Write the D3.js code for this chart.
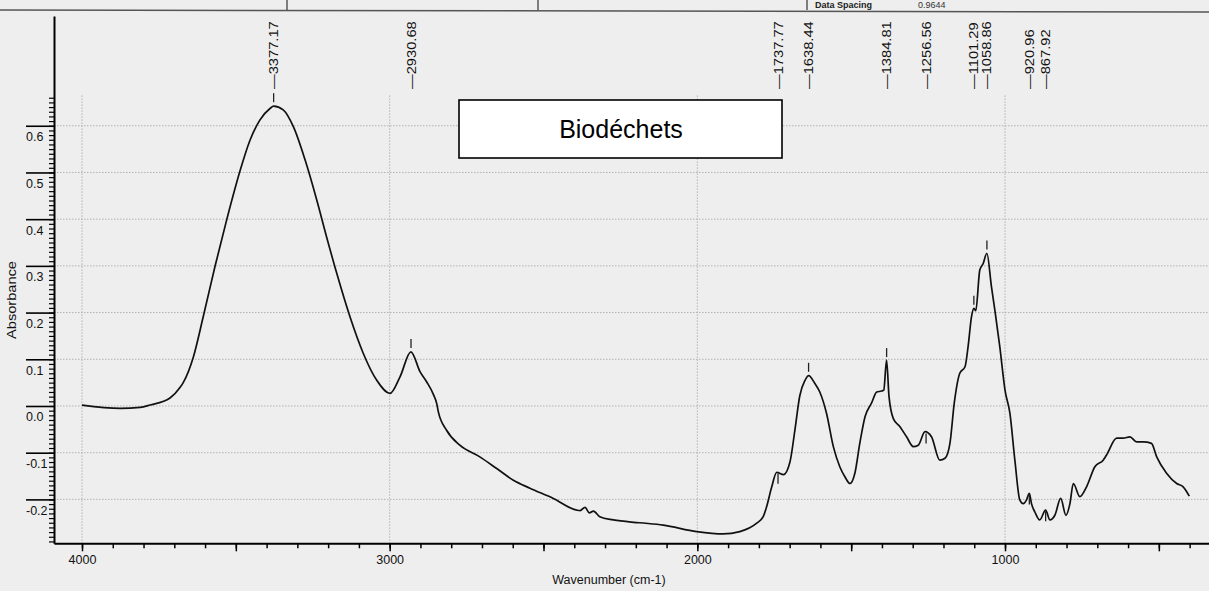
<!DOCTYPE html>
<html><head><meta charset="utf-8">
<script src="https://cdn.jsdelivr.net/npm/d3@7"></script>
<style>
html,body{margin:0;padding:0;background:#eeeeee;}
svg{display:block;font-family:"Liberation Sans",Arial,sans-serif;}
</style></head>
<body>
<svg id="chart" width="1209" height="591"></svg>
<script>
// ---- data ----
const wavenumbers = [4000,3876,3811,3779,3714,3681,3671,3638,3606,3568,3530,3487,3454,3422,3389,3377,3346,3313,3275,3237,3205,3172,3129,3086,3042,2999,2966,2931,2901,2880,2858,2847,2842,2815,2772,2707,2652,2598,2544,2468,2392,2381,2365,2351,2338,2317,2273,2187,2111,2002,1916,1862,1807,1786,1775,1759,1742,1720,1699,1683,1667,1650,1638,1618,1602,1580,1558,1537,1520,1504,1488,1472,1455,1434,1417,1401,1394,1385,1377,1363,1342,1320,1298,1282,1260,1239,1212,1195,1179,1165,1147,1130,1120,1109,1101,1095,1082,1071,1059,1044,1033,1017,1000,984,968,952,941,930,921,914,903,887,868,854,838,819,802,789,778,757,735,708,681,670,637,616,594,572,551,524,507,475,442,421,401];
const absorbance = [0.002,-0.005,-0.003,0.002,0.017,0.040,0.050,0.105,0.191,0.298,0.398,0.502,0.569,0.612,0.637,0.642,0.634,0.598,0.527,0.441,0.362,0.284,0.191,0.113,0.055,0.027,0.063,0.116,0.073,0.052,0.025,0.005,-0.012,-0.052,-0.084,-0.109,-0.134,-0.159,-0.176,-0.198,-0.223,-0.224,-0.217,-0.229,-0.225,-0.237,-0.244,-0.250,-0.255,-0.269,-0.274,-0.269,-0.251,-0.237,-0.216,-0.175,-0.142,-0.147,-0.120,-0.052,0.022,0.055,0.065,0.048,0.030,-0.016,-0.087,-0.130,-0.152,-0.166,-0.144,-0.080,-0.023,0.006,0.030,0.032,0.034,0.098,0.020,-0.027,-0.044,-0.066,-0.087,-0.084,-0.055,-0.066,-0.116,-0.112,-0.080,0.006,0.070,0.084,0.127,0.191,0.209,0.204,0.291,0.305,0.327,0.255,0.205,0.127,0.034,-0.016,-0.116,-0.201,-0.209,-0.201,-0.187,-0.209,-0.227,-0.244,-0.223,-0.244,-0.234,-0.198,-0.234,-0.209,-0.166,-0.194,-0.173,-0.130,-0.116,-0.105,-0.069,-0.069,-0.066,-0.077,-0.077,-0.080,-0.109,-0.144,-0.166,-0.173,-0.193];
const peakPositions = [3377.17,2930.68,1737.77,1638.44,1384.81,1256.56,1101.29,1058.86,920.96,867.92];
const peakLabels = ["3377.17","2930.68","1737.77","1638.44","1384.81","1256.56","1101.29","1058.86","920.96","867.92"];
const peakSides = ["up","up","down","up","up","down","up","up","down","down"];
const yTickValues = [-0.2,-0.1,0.0,0.1,0.2,0.3,0.4,0.5,0.6];
const yTickLabels = ["-0.2","-0.1","0.0","0.1","0.2","0.3","0.4","0.5","0.6"];
const xTickValues = [4000,3000,2000,1000];
const xTickLabels = ["4000","3000","2000","1000"];
const title = "Biodéchets";
const xTitle = "Wavenumber (cm-1)";
const yTitle = "Absorbance";
const headerTexts = ["Data Spacing","0.9644"];

// ---- chart ----
const svg = d3.select("#chart");
const x = d3.scaleLinear().domain([4091, 337]).range([54, 1209]);
const y = d3.scaleLinear().domain([-0.294, 0.835]).range([543.3, 16]);

// background
svg.append("rect").attr("width",1209).attr("height",591).attr("fill","#eeeeee");

// header strip (cropped scan header)
svg.append("line").attr("x1",0).attr("x2",1209).attr("y1",10).attr("y2",12).attr("stroke","#555").attr("stroke-width",1.5);
[287,538,807].forEach(px=>{
  svg.append("line").attr("x1",px).attr("x2",px).attr("y1",0).attr("y2",10).attr("stroke","#333").attr("stroke-width",1.2);
});
svg.append("text").attr("x",815).attr("y",8).attr("font-size",9).attr("font-weight","bold").attr("fill","#222").text(headerTexts[0]);
svg.append("text").attr("x",918).attr("y",8).attr("font-size",9).attr("fill","#333").text(headerTexts[1]);

// grid
const gridTop = y(0.665), gridBottom = y(-0.294);
svg.append("g").selectAll("line").data(yTickValues).join("line")
  .attr("x1",54).attr("x2",1209).attr("y1",d=>y(d)).attr("y2",d=>y(d))
  .attr("stroke","#b2b2b2").attr("stroke-width",1).attr("stroke-dasharray","1.5,1.5");
svg.append("g").selectAll("line").data(xTickValues).join("line")
  .attr("x1",d=>x(d)).attr("x2",d=>x(d)).attr("y1",gridTop).attr("y2",gridBottom)
  .attr("stroke","#b2b2b2").attr("stroke-width",1).attr("stroke-dasharray","1.5,1.5");

// x axis
const xMinor = svg.append("g").attr("transform","translate(0,543.3)")
  .call(d3.axisBottom(x).tickValues(d3.range(4000,399,-100)).tickSize(5).tickSizeOuter(0).tickFormat(""));
xMinor.select(".domain").attr("stroke","#000").attr("stroke-width",2);
xMinor.selectAll(".tick line").attr("stroke","#000").attr("stroke-width",1.5);
const xMajor = svg.append("g").attr("transform","translate(0,543.3)")
  .call(d3.axisBottom(x).tickValues([4000,3500,3000,2500,2000,1500,1000,500]).tickSize(8).tickSizeOuter(0)
    .tickFormat(d=>{const i=xTickValues.indexOf(d);return i>=0?xTickLabels[i]:"";}));
xMajor.select(".domain").remove();
xMajor.selectAll(".tick line").attr("stroke","#000").attr("stroke-width",1.5);
xMajor.selectAll(".tick text").attr("font-size",12.5).attr("font-family","Liberation Sans, Arial, sans-serif").attr("fill","#111").attr("y",12);

// y axis
const yMinor = svg.append("g").attr("transform","translate(54,0)")
  .call(d3.axisLeft(y).tickValues(d3.range(-29,67).map(d=>d/100)).tickSize(5).tickSizeOuter(0).tickFormat(""));
yMinor.select(".domain").attr("stroke","#000").attr("stroke-width",2);
yMinor.selectAll(".tick line").attr("stroke","#000").attr("stroke-width",1.2);
const yMajor = svg.append("g").attr("transform","translate(54,0)")
  .call(d3.axisLeft(y).tickValues(yTickValues).tickSize(28).tickSizeOuter(0)
    .tickFormat(d=>yTickLabels[yTickValues.indexOf(d)]));
yMajor.select(".domain").remove();
yMajor.selectAll(".tick line").attr("stroke","#000").attr("stroke-width",1.6);
yMajor.selectAll(".tick text").attr("font-size",12.5).attr("font-family","Liberation Sans, Arial, sans-serif")
  .attr("fill","#111").attr("text-anchor","start").attr("x",-28).attr("dy",15);

// axis titles
svg.append("text").attr("x",609).attr("y",584).attr("text-anchor","middle").attr("font-size",12.5).attr("fill","#111").text(xTitle);
const yt = svg.append("text").attr("transform","translate(16,300) rotate(-90)").attr("text-anchor","middle")
  .attr("font-size",12).attr("fill","#111").text(yTitle);
yt.attr("textLength",78).attr("lengthAdjust","spacingAndGlyphs");

// curve
const data = wavenumbers.map((w,i)=>[w,absorbance[i]]);
const line = d3.line().x(d=>x(d[0])).y(d=>y(d[1])).curve(d3.curveMonotoneX);
svg.append("path").datum(data).attr("d",line).attr("fill","none").attr("stroke","#111").attr("stroke-width",1.7).attr("stroke-linejoin","round");

// value at a wavenumber (linear interpolation on the data)
function valueAt(w){
  for(let i=0;i<wavenumbers.length-1;i++){
    const a=wavenumbers[i], b=wavenumbers[i+1];
    if(w<=a && w>=b){const t=(a-w)/(a-b);return absorbance[i]+t*(absorbance[i+1]-absorbance[i]);}
  }
  return 0;
}

// peak markers
svg.append("g").selectAll("line").data(peakPositions).join("line")
  .attr("x1",d=>x(d)).attr("x2",d=>x(d))
  .attr("y1",(d,i)=>peakSides[i]==="up"? y(valueAt(d))-13 : y(valueAt(d))+1)
  .attr("y2",(d,i)=>peakSides[i]==="up"? y(valueAt(d))-4 : y(valueAt(d))+11)
  .attr("stroke","#222").attr("stroke-width",1.3);

// peak labels
svg.append("g").selectAll("text").data(peakPositions).join("text")
  .attr("transform",d=>`translate(${x(d)},89) rotate(-90)`)
  .attr("dy","0.35em").attr("font-size",13).attr("fill","#111")
  .text((d,i)=>"\u2014"+peakLabels[i])
  .each(function(){const L=this.getComputedTextLength();d3.select(this).attr("textLength",L*1.13).attr("lengthAdjust","spacingAndGlyphs");});

// title box
svg.append("rect").attr("x",459).attr("y",100).attr("width",323).attr("height",58)
  .attr("fill","#ffffff").attr("stroke","#000").attr("stroke-width",1.6);
svg.append("text").attr("x",621).attr("y",138).attr("text-anchor","middle").attr("font-size",25).attr("fill","#000").text(title);
</script>
</body></html>
